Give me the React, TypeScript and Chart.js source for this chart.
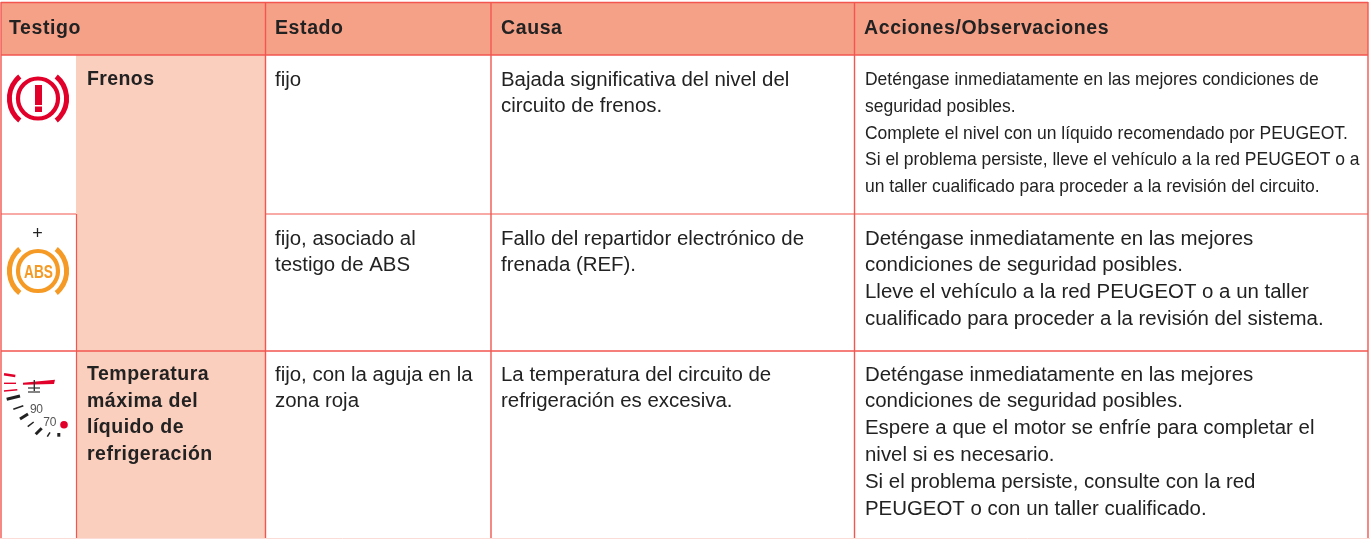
import React, { useEffect, useRef } from "react";
import { Chart, registerables } from "chart.js";

Chart.register(...registerables);

const headers = ["Testigo", "Estado", "Causa", "Acciones/Observaciones"];
const warningNames = [["Frenos"], ["Temperatura", "máxima del", "líquido de", "refrigeración"]];
const states = [["fijo"], ["fijo, asociado al", "testigo de ABS"], ["fijo, con la aguja en la", "zona roja"]];
const causes = [
  ["Bajada significativa del nivel del", "circuito de frenos."],
  ["Fallo del repartidor electrónico de", "frenada (REF)."],
  ["La temperatura del circuito de", "refrigeración es excesiva."],
];
const actions = [
  [
    "Deténgase inmediatamente en las mejores condiciones de",
    "seguridad posibles.",
    "Complete el nivel con un líquido recomendado por PEUGEOT.",
    "Si el problema persiste, lleve el vehículo a la red PEUGEOT o a",
    "un taller cualificado para proceder a la revisión del circuito.",
  ],
  [
    "Deténgase inmediatamente en las mejores",
    "condiciones de seguridad posibles.",
    "Lleve el vehículo a la red PEUGEOT o a un taller",
    "cualificado para proceder a la revisión del sistema.",
  ],
  [
    "Deténgase inmediatamente en las mejores",
    "condiciones de seguridad posibles.",
    "Espere a que el motor se enfríe para completar el",
    "nivel si es necesario.",
    "Si el problema persiste, consulte con la red",
    "PEUGEOT o con un taller cualificado.",
  ],
];
const gaugeLabels = ["90", "70"];
const absLabel = "ABS";
const plusLabel = "+";

const FONT = '"Liberation Sans", Arial, sans-serif';
const LINE = "#f2564f";
const HEAD = "#f5a188";
const LIGHT = "#fbcfbe";
const INK = "#222222";
const RED = "#e2002a";
const ORANGE = "#f59a25";

const tablePlugin = {
  id: "table",
  beforeDatasetsDraw(chart: any) {
    const c: CanvasRenderingContext2D = chart.ctx;
    const X = (v: number) => chart.scales.x.getPixelForValue(v);
    const Y = (v: number) => chart.scales.y.getPixelForValue(v);
    const rect = (x0: number, y0: number, x1: number, y1: number, col: string) => {
      c.fillStyle = col;
      c.fillRect(X(x0), Y(y0), X(x1) - X(x0), Y(y1) - Y(y0));
    };
    const text = (s: string, x: number, y: number, font: string, col = INK, ls = "0px", align: CanvasTextAlign = "left") => {
      c.font = font;
      c.fillStyle = col;
      c.textAlign = align;
      c.textBaseline = "alphabetic";
      (c as any).letterSpacing = ls;
      c.fillText(s, X(x), Y(y));
      (c as any).letterSpacing = "0px";
    };
    const wide = (s: string, x: number, y: number, font: string, sx: number) => {
      c.save();
      c.translate(X(x), Y(y));
      c.scale(sx, 1);
      c.font = font;
      c.fillStyle = INK;
      c.textAlign = "left";
      c.textBaseline = "alphabetic";
      c.fillText(s, 0, 0);
      c.restore();
    };
    const line = (x0: number, y0: number, x1: number, y1: number, col: string, w: number, cap: CanvasLineCap = "butt") => {
      c.strokeStyle = col;
      c.lineWidth = w;
      c.lineCap = cap;
      c.beginPath();
      c.moveTo(X(x0), Y(y0));
      c.lineTo(X(x1), Y(y1));
      c.stroke();
    };
    c.save();
    rect(0, 0, 1370, 539, "#ffffff");
    rect(1, 2, 1368, 55, HEAD);
    rect(76, 55, 265, 539, LIGHT);

    // grid
    const vAll = [1, 265.5, 491, 854.5, 1368];
    vAll.forEach((v) => line(v, 2, v, 539, LINE, 1.4));
    line(76.5, 214, 76.5, 539, LINE, 1.2);
    line(1, 2.5, 1368, 2.5, LINE, 1.4);
    line(1, 55, 1368, 55, LINE, 1.4);
    line(1, 214, 76, 214, LINE, 1.2);
    line(265, 214, 1368, 214, LINE, 1.2);
    line(1, 351, 1368, 351, LINE, 1.4);
    line(0, 538.5, 1370, 538.5, "#fbdcd6", 1);

    // headers and names
    const hx = [9, 275, 501, 864];
    const bold = `bold 19.5px ${FONT}`;
    headers.forEach((h, i) => text(h, hx[i], 34, bold, INK, "0.6px"));
    warningNames[0].forEach((s, i) => text(s, 87, 85 + i * 27, bold, INK, "0.4px"));
    warningNames[1].forEach((s, i) => text(s, 87, 380 + i * 26.7, bold, INK, "0.5px"));

    // body
    const body = `20px ${FONT}`;
    const SX = 1.021;
    const rowTop = [85.5, 244.5, 380.5];
    states.forEach((r, ri) => r.forEach((s, i) => wide(s, 275, rowTop[ri] + i * 26.8, body, SX)));
    causes.forEach((r, ri) => r.forEach((s, i) => wide(s, 501, rowTop[ri] + i * 26.8, body, SX)));
    actions[0].forEach((s, i) => wide(s, 865, 85 + i * 26.8, `18.6px ${FONT}`, 0.94));
    actions[1].forEach((s, i) => wide(s, 865, 244.5 + i * 26.8, body, SX));
    actions[2].forEach((s, i) => wide(s, 865, 380.5 + i * 26.8, body, SX));

    // brake icon
    const ring = (cx: number, cy: number, col: string) => {
      c.strokeStyle = col;
      c.lineCap = "butt";
      c.lineWidth = 4.2;
      c.beginPath();
      c.arc(X(cx), Y(cy), 20, 0, Math.PI * 2);
      c.stroke();
      c.lineWidth = 5;
      c.beginPath();
      c.arc(X(cx), Y(cy), 28.6, -0.88, 0.88);
      c.stroke();
      c.beginPath();
      c.arc(X(cx), Y(cy), 28.6, Math.PI - 0.88, Math.PI + 0.88);
      c.stroke();
    };
    ring(38, 98.5, RED);
    rect(35, 85, 42, 105, RED);
    rect(35, 106.5, 42, 112, RED);

    // abs icon
    text(plusLabel, 37.5, 239, `18px ${FONT}`, INK, "0px", "center");
    ring(38, 271, ORANGE);
    c.save();
    c.translate(X(38.5), Y(277.7));
    c.scale(0.72, 1);
    c.font = `bold 19px ${FONT}`;
    c.fillStyle = ORANGE;
    c.textAlign = "center";
    c.fillText(absLabel, 0, 0);
    c.restore();

    // gauge icon
    line(4, 374.3, 15.3, 376, RED, 2.5);
    line(4, 383.3, 16, 383.3, RED, 1.4);
    line(4, 391, 17.3, 389.7, RED, 1.6);
    c.fillStyle = RED;
    c.beginPath();
    c.moveTo(X(23), Y(382.8));
    c.lineTo(X(55), Y(379.8));
    c.lineTo(X(54), Y(384));
    c.lineTo(X(23), Y(384.8));
    c.closePath();
    c.fill();
    line(34.3, 380, 34.3, 391, "#333", 1.4);
    line(28, 388, 40, 388, "#333", 1.2);
    line(28, 392, 40, 392, "#333", 1.2);
    line(6.7, 399.3, 20, 396, "#222", 3);
    line(13.3, 409.3, 23.3, 405.7, "#222", 1.5);
    line(20, 419, 28, 414, "#222", 3);
    line(27.7, 426.7, 33.7, 422, "#222", 1.5);
    line(35.7, 434.3, 41.7, 428.3, "#222", 3);
    line(47.3, 436.7, 50, 432.3, "#222", 1.5);
    rect(57.3, 433, 60.3, 436.7, "#222");
    text(gaugeLabels[0], 30, 412.7, `12px ${FONT}`, "#555", "-0.3px");
    text(gaugeLabels[1], 43.3, 425.7, `12px ${FONT}`, "#555", "-0.3px");
    c.fillStyle = RED;
    c.beginPath();
    c.arc(X(64), Y(424.7), 3.8, 0, Math.PI * 2);
    c.fill();
    c.restore();
  },
};

export default function App() {
  const ref = useRef<HTMLCanvasElement>(null);
  useEffect(() => {
    document.body.style.margin = "0";
    const chart = new Chart(ref.current!, {
      type: "scatter",
      data: { datasets: [{ data: [], pointRadius: 0 }] },
      options: {
        animation: false,
        responsive: false,
        layout: { padding: 0 },
        plugins: { legend: { display: false }, tooltip: { enabled: false } },
        scales: {
          x: { type: "linear", display: false, min: 0, max: 1370 },
          y: { type: "linear", display: false, min: 0, max: 539, reverse: true },
        },
      },
      plugins: [tablePlugin],
    });
    return () => chart.destroy();
  }, []);
  return <canvas ref={ref} width={1370} height={539} style={{ display: "block" }} />;
}
